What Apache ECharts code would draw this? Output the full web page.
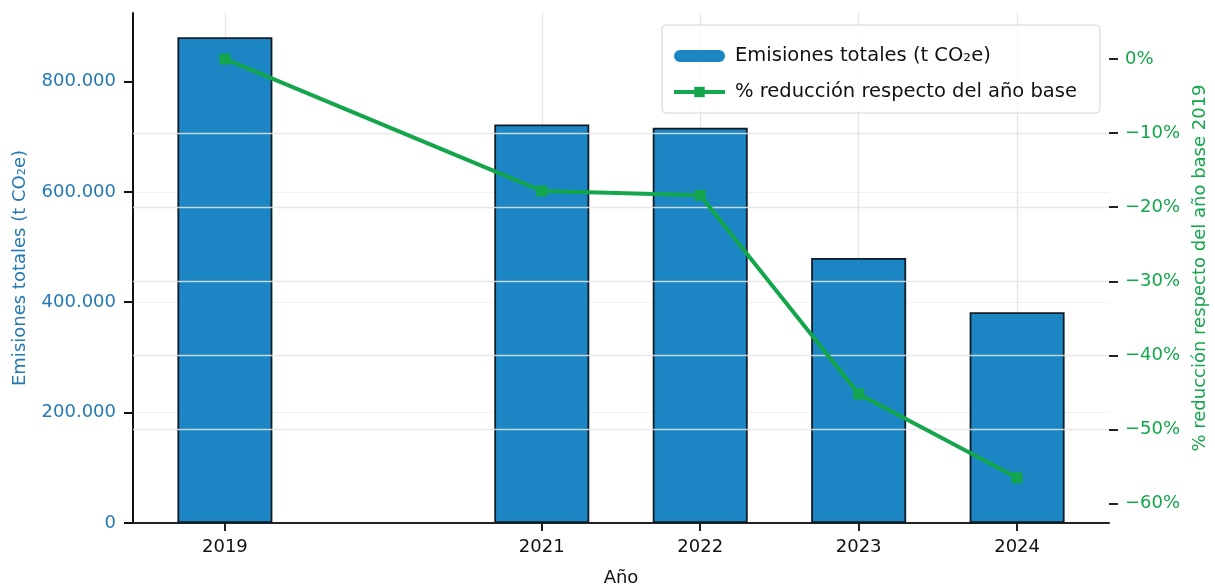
<!DOCTYPE html>
<html>
<head>
<meta charset="utf-8">
<title>Emisiones totales</title>
<script src="https://cdn.jsdelivr.net/npm/echarts@6/dist/echarts.min.js"></script>
<style>
  html, body { margin: 0; padding: 0; background: #ffffff; }
  #emisionesChart { width: 1215px; height: 588px; }
</style>
</head>
<body>
<div id="emisionesChart"></div>
<script>
  // datos
  const years = [2019, 2021, 2022, 2023, 2024];
  const emissions = [880000, 722000, 716000, 480000, 382000];
  const reductionPct = [0, -17.8, -18.4, -45.2, -56.5];
  const leftTicks = [0, 200000, 400000, 600000, 800000];
  const rightTicks = [-60, -50, -40, -30, -20, -10, 0];

  const barName = 'Emisiones totales (t CO₂e)';
  const lineName = '% reducción respecto del año base';
  const blue = '#1b86c3';
  const green = '#14a64c';
  const labelBlue = '#2479b3';
  const font = 'DejaVu Sans';

  function miles(v) {
    return String(Math.round(v)).replace(/\B(?=(\d{3})+(?!\d))/g, '.');
  }
  function pct(v) {
    return v === 0 ? '0%' : (v < 0 ? '\u2212' : '') + Math.abs(v) + '%';
  }

  let dom = document.getElementById('emisionesChart');
  let myChart = echarts.init(dom, null, { renderer: 'canvas' });

  let option = {
    animation: false,
    backgroundColor: '#ffffff',
    textStyle: { fontFamily: font },
    grid: {
      left: 133,
      right: 106,
      top: 13,
      bottom: 65,
      containLabel: false,
      outerBoundsMode: 'none'
    },
    legend: {
      orient: 'vertical',
      left: 662,
      top: 25,
      padding: [21, 23, 11, 10],
      itemGap: 16,
      itemWidth: 51,
      itemHeight: 13,
      borderColor: '#d4d4d4',
      borderWidth: 1,
      borderRadius: 4,
      backgroundColor: 'rgba(255,255,255,0.8)',
      textStyle: { fontSize: 19.5, color: '#111', fontFamily: font, padding: [0, 0, 0, 5] },
      data: [
        {
          name: barName,
          icon: 'path://M6,0H45A6,6 0 0 1 45,12H6A6,6 0 0 1 6,0Z',
          itemStyle: { color: blue, borderWidth: 0 }
        },
        { name: lineName, lineStyle: { width: 4 } }
      ]
    },
    xAxis: {
      type: 'value',
      min: 2018.42,
      max: 2024.58,
      name: 'Año',
      nameLocation: 'middle',
      nameGap: 46,
      nameTextStyle: { fontSize: 18, color: '#111', fontFamily: font },
      axisLine: { show: true, lineStyle: { color: '#222', width: 2 } },
      axisTick: { show: true, length: 8, lineStyle: { color: '#222', width: 2 }, customValues: years },
      axisLabel: {
        fontSize: 18,
        color: '#111',
        margin: 15,
        customValues: years,
        formatter: function (v) { return String(v); }
      },
      splitLine: { show: false }
    },
    yAxis: [
      {
        type: 'value',
        position: 'left',
        min: 0,
        max: 924000,
        name: barName,
        nameLocation: 'middle',
        nameRotate: 90,
        nameGap: 104,
        nameTextStyle: { fontSize: 18, color: labelBlue, fontFamily: font },
        axisLine: { show: true, lineStyle: { color: '#111', width: 2 } },
        axisTick: { show: true, length: 9, lineStyle: { color: '#111', width: 2 }, customValues: leftTicks },
        axisLabel: {
          fontSize: 18,
          color: labelBlue,
          margin: 17,
          customValues: leftTicks,
          formatter: miles
        },
        splitLine: { show: true, showMinLine: false, showMaxLine: false, lineStyle: { color: '#f2f2f2', width: 1 } }
      },
      {
        type: 'value',
        position: 'right',
        min: -62.6,
        max: 6.2,
        z: 3,
        name: '% reducción respecto del año base 2019',
        nameLocation: 'middle',
        nameRotate: 90,
        nameGap: 76,
        nameTextStyle: { fontSize: 18, color: green, fontFamily: font },
        axisLine: { show: false },
        axisTick: { show: true, length: 9, lineStyle: { color: '#222', width: 2 }, customValues: rightTicks },
        axisLabel: {
          fontSize: 18,
          color: green,
          margin: 16,
          customValues: rightTicks,
          formatter: pct
        },
        splitLine: { show: true, showMinLine: false, showMaxLine: false, lineStyle: { color: 'rgba(228,228,228,0.85)', width: 1.3 } }
      }
    ],
    series: [
      {
        name: barName,
        type: 'bar',
        yAxisIndex: 0,
        barWidth: 95,
        z: 2,
        itemStyle: { color: blue, borderColor: '#0e1c28', borderWidth: 1.8 },
        data: years.map(function (y, i) { return [y, emissions[i]]; }),
        markLine: {
          z: 1,
          silent: true,
          symbol: ['none', 'none'],
          label: { show: false },
          lineStyle: { color: '#e4e4e4', type: 'solid', width: 1.3 },
          data: years.map(function (y) { return { xAxis: y }; })
        }
      },
      {
        name: lineName,
        type: 'line',
        yAxisIndex: 1,
        z: 5,
        symbol: 'rect',
        symbolSize: 11,
        lineStyle: { color: green, width: 4 },
        itemStyle: { color: green },
        data: years.map(function (y, i) { return [y, reductionPct[i]]; })
      }
    ]
  };

  if (option && typeof option === 'object') {
    myChart.setOption(option, true);
  }
</script>
</body>
</html>
